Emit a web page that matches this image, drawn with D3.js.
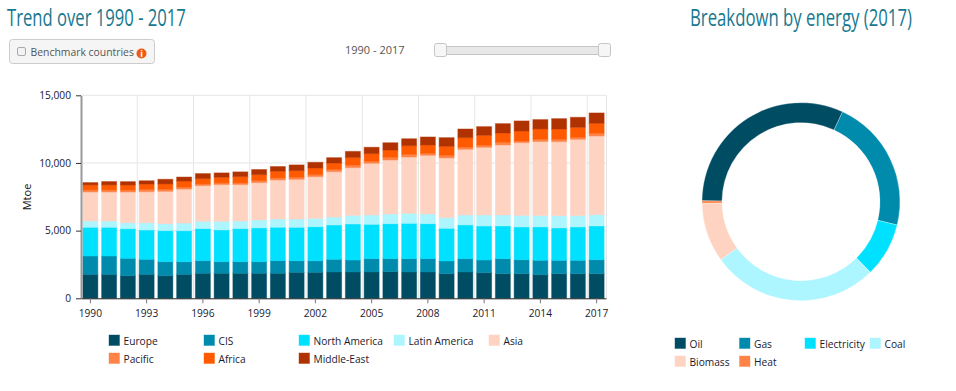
<!DOCTYPE html>
<html>
<head>
<meta charset="utf-8">
<script src="https://cdnjs.cloudflare.com/ajax/libs/d3/7.8.5/d3.min.js"></script>
<style>
body { margin: 0; background: #fff; }
svg { display: block; font-family: "Open Sans", sans-serif; }
</style>
</head>
<body>
<svg id="chart" width="956" height="391"></svg>
<script>
const years = d3.range(1990, 2018);
const europe = [1770,1770,1675,1770,1675,1770,1850,1850,1850,1850,1850,1920,1920,1945,1945,1945,1970,1945,1945,1820,1945,1895,1820,1820,1750,1820,1820,1820];
const cis = [1355,1355,1280,1110,1035,935,935,860,860,860,935,860,860,935,885,985,960,985,985,935,985,935,1110,1035,1060,985,985,1035];
const northAmerica = [2120,2120,2190,2165,2290,2290,2365,2340,2440,2490,2465,2465,2510,2535,2660,2535,2585,2610,2585,2415,2490,2510,2415,2415,2465,2390,2465,2490];
const latinAmerica = [470,470,445,540,515,565,540,640,565,590,615,615,615,590,640,690,715,740,715,790,740,815,815,860,835,910,835,835];
const asia = [2145,2145,2265,2290,2390,2510,2635,2710,2685,2760,2880,2930,3080,3350,3520,3820,3990,4160,4335,4410,4850,5000,5170,5370,5470,5470,5640,5815];
const pacific = [150,150,150,170,150,150,125,125,125,150,150,150,150,170,195,150,195,195,150,195,170,150,195,125,170,170,150,195];
const africa = [370,370,370,395,395,445,395,420,470,445,495,495,495,470,565,565,540,640,615,665,690,740,690,740,765,765,740,740];
const middleEast = [170,245,245,245,345,295,370,320,345,370,345,420,420,395,445,470,540,515,590,640,640,640,690,740,690,765,740,765];

const seriesNames = ["Europe", "CIS", "North America", "Latin America", "Asia", "Pacific", "Africa", "Middle-East"];
const seriesColors = ["#004d63", "#008bad", "#00e1ff", "#adf5ff", "#ffd3c2", "#ff8347", "#ff5a00", "#b03200"];
const seriesValues = [europe, cis, northAmerica, latinAmerica, asia, pacific, africa, middleEast];

const energyNames = ["Oil", "Gas", "Electricity", "Coal", "Biomass", "Heat"];
const energyShares = [31.75, 21.9, 8.85, 27.4, 9.7, 0.4];
const energyColors = ["#004d63", "#008bad", "#00e1ff", "#adf5ff", "#ffd3c2", "#ff8347"];

const yTicks = [0, 5000, 10000, 15000];
const xTickYears = [1990, 1993, 1996, 1999, 2002, 2005, 2008, 2011, 2014, 2017];

const svg = d3.select("#chart");
const titleColor = "#17788f";
const textColor = "#1a1a2e";
const greyText = "#555";
const labelSize = 10.2;

//------------------TITLES------------------
// the original heading font is condensed, so squeeze a normal one to the same width
function drawTitle(label, left, baseline, width) {
    const t = svg.append("text").attr("font-size", 24).attr("fill", titleColor).text(label);
    const sx = width / t.node().getComputedTextLength();
    t.attr("transform", `translate(${left},${baseline}) scale(${sx},1)`);
}
drawTitle("Trend over 1990 - 2017", 7, 26, 179);
drawTitle("Breakdown by energy (2017)", 690, 26, 222);

//------------------BENCHMARK BUTTON------------------
svg.append("rect").attr("x", 9.5).attr("y", 39.5).attr("width", 145).attr("height", 24).attr("rx", 3)
    .attr("fill", "#f5f5f5").attr("stroke", "#ccc");
svg.append("rect").attr("x", 17.5).attr("y", 47.5).attr("width", 8).attr("height", 8).attr("rx", 1.5)
    .attr("fill", "#f2f2f2").attr("stroke", "#aaa");
svg.append("text").attr("x", 30.5).attr("y", 56)
    .attr("font-size", 10.4).attr("fill", greyText).text("Benchmark countries");
svg.append("circle").attr("cx", 141.5).attr("cy", 53.5).attr("r", 5).attr("fill", "#f15a14");
svg.append("text").attr("x", 141.5).attr("y", 57).attr("text-anchor", "middle")
    .attr("font-size", 9).attr("font-weight", "bold").attr("fill", "#fff").text("i");

//------------------SLIDER------------------
svg.append("text").attr("x", 345).attr("y", 54)
    .attr("font-size", 11).attr("fill", greyText).text("1990 - 2017");
svg.append("rect").attr("x", 440).attr("y", 46.5).attr("width", 164).attr("height", 8)
    .attr("fill", "#e8e8e8").attr("stroke", "#c5c5c5");
[434.5, 598.5].forEach(hx => {
    svg.append("rect").attr("x", hx).attr("y", 43.5).attr("width", 12).attr("height", 13).attr("rx", 2)
        .attr("fill", "#f6f6f6").attr("stroke", "#c5c5c5");
});

//------------------AXIS------------------
const padInner = 0.2;
const x = d3.scaleBand()
    .domain(years)
    .range([81, 606])
    .paddingInner(padInner)
    .paddingOuter(padInner / 2);

const y = d3.scaleLinear().domain([0, 15000]).range([298.3, 95.3]);

const bandEdge = d => x(d) - x.step() * padInner / 2;
const gridYears = xTickYears.slice(1);

// grid lines
svg.append("g").selectAll("line").data(yTicks.slice(1)).join("line")
    .attr("x1", 81).attr("x2", 606)
    .attr("y1", d => y(d)).attr("y2", d => y(d))
    .attr("stroke", "#e6e6e6");
svg.append("g").selectAll("line").data(gridYears).join("line")
    .attr("x1", d => bandEdge(d)).attr("x2", d => bandEdge(d))
    .attr("y1", y(15000)).attr("y2", y(0))
    .attr("stroke", "#e6e6e6");
svg.append("line").attr("x1", 606.5).attr("x2", 606.5).attr("y1", y(15000)).attr("y2", y(0))
    .attr("stroke", "#e6e6e6");

//------------------BARS------------------
const rows = years.map((yr, i) => {
    const row = { year: yr };
    seriesNames.forEach((n, j) => { row[n] = seriesValues[j][i]; });
    return row;
});
const stacked = d3.stack().keys(seriesNames)(rows);

svg.append("g").selectAll("g").data(stacked).join("g")
    .attr("fill", (d, i) => seriesColors[i])
    .attr("stroke", (d, i) => seriesColors[i])
    .attr("stroke-opacity", 0.45)
    .selectAll("rect").data(d => d).join("rect")
    .attr("x", d => x(d.data.year))
    .attr("y", d => y(d[1]))
    .attr("width", x.bandwidth())
    .attr("height", d => y(d[0]) - y(d[1]));

// y axis
const yAxisG = svg.append("g").attr("transform", "translate(81,0)")
    .call(d3.axisLeft(y).tickValues(yTicks).tickFormat(d3.format(",")).tickSize(5).tickPadding(5).tickSizeOuter(0));
yAxisG.select(".domain").attr("stroke", "#999").attr("stroke-width", 2);
yAxisG.selectAll(".tick line").attr("stroke", "#333");
yAxisG.selectAll("text").attr("font-family", "Open Sans").attr("font-size", labelSize).attr("fill", textColor);

svg.append("text")
    .attr("transform", "translate(31,197) rotate(-90)")
    .attr("text-anchor", "middle")
    .attr("font-size", 11).attr("fill", "#111").text("Mtoe");

// x axis
const xAxisG = svg.append("g").attr("transform", "translate(0,298.3)")
    .call(d3.axisBottom(x).tickValues(xTickYears).tickSize(5).tickPadding(6).tickSizeOuter(0));
xAxisG.select(".domain").attr("stroke", "#222").attr("stroke-width", 1);
xAxisG.selectAll(".tick line").attr("stroke", "#777");
xAxisG.selectAll("text").attr("font-family", "Open Sans").attr("font-size", labelSize).attr("fill", textColor);

//------------------LEGENDS------------------
function drawLegend(names, colors, positions) {
    const g = svg.append("g").selectAll("g").data(names).join("g")
        .attr("transform", (d, i) => `translate(${positions[i][0]},${positions[i][1]})`);
    g.append("rect").attr("width", 10.5).attr("height", 10.5)
        .attr("fill", (d, i) => colors[i])
        .attr("stroke", (d, i) => colors[i]).attr("stroke-opacity", 0.4);
    g.append("text").attr("x", 14.5).attr("y", 9.5)
        .attr("font-size", labelSize).attr("fill", textColor).text(d => d);
}

drawLegend(seriesNames, seriesColors, [
    [109, 335], [204, 335], [299, 335], [394, 335], [489, 335],
    [109, 353], [204, 353], [299, 353]
]);
drawLegend(energyNames, energyColors, [
    [675, 338], [739.5, 338], [805, 338], [870, 338],
    [675, 356], [739.5, 356]
]);

//------------------DONUT------------------
const pie = d3.pie().sort(null)
    .startAngle(-89.5 * Math.PI / 180)
    .endAngle(270.5 * Math.PI / 180);
const arc = d3.arc().innerRadius(79).outerRadius(99);

svg.append("g").attr("transform", "translate(801,201.7)")
    .selectAll("path").data(pie(energyShares)).join("path")
    .attr("d", arc)
    .attr("fill", (d, i) => energyColors[i])
    .attr("stroke", "#fff").attr("stroke-width", 0.3);
</script>
</body>
</html>
